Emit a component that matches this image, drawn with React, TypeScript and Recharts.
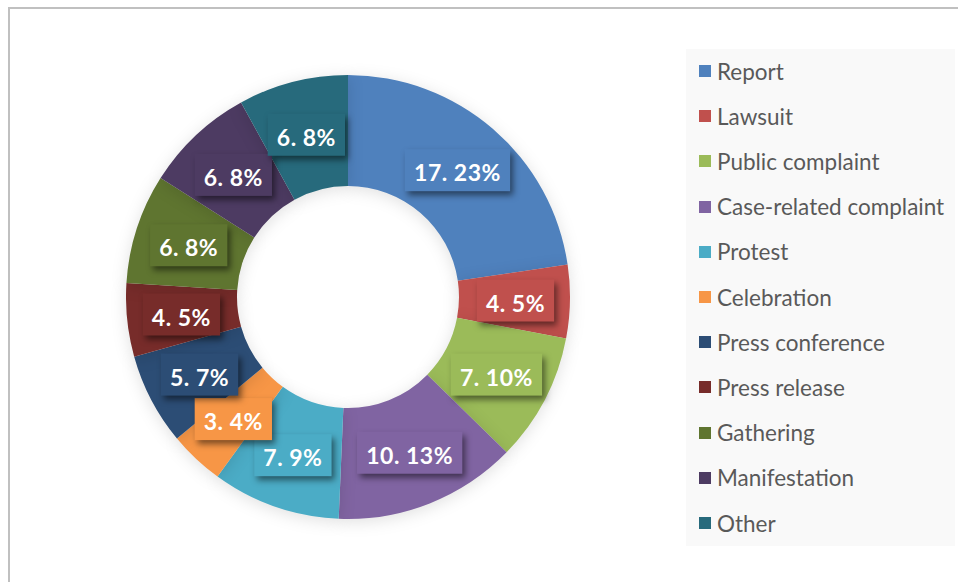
import React from "react";
import { PieChart, Pie, Cell, Legend } from "recharts";

// categories, counts and the percent shown in each label (as printed on the chart)
const categories = [
  "Report",
  "Lawsuit",
  "Public complaint",
  "Case-related complaint",
  "Protest",
  "Celebration",
  "Press conference",
  "Press release",
  "Gathering",
  "Manifestation",
  "Other"
];
const counts = [17, 4, 7, 10, 7, 3, 5, 4, 6, 6, 6];
const percentLabels = ["23%", "5%", "10%", "13%", "9%", "4%", "7%", "5%", "8%", "8%", "8%"];

const colors = [
  "#4F81BD",
  "#C0504D",
  "#9BBB59",
  "#8064A2",
  "#4BACC6",
  "#F79646",
  "#2C4D75",
  "#772C2A",
  "#5F7530",
  "#4D3B62",
  "#276A7C"
];

const chartData = categories.map((name, i) => ({
  name,
  value: counts[i],
  pct: percentLabels[i]
}));

const FONT = "Lato, 'Open Sans', sans-serif";

// rough width of the label text (bold, 23px, 0.5px spacing)
function labelWidth(s: string) {
  let w = 0;
  for (const ch of s) {
    if (ch === ".") w += 6.6;
    else if (ch === " ") w += 5.5;
    else if (ch === "%") w += 19.7;
    else w += 13.5;
    w += 0.5;
  }
  return w;
}

const RADIAN = Math.PI / 180;

const renderLabel = (props: any) => {
  const { cx, cy, midAngle, innerRadius, outerRadius, index } = props;
  const r = (innerRadius + outerRadius) / 2 + 1;
  const x = cx + r * Math.cos(-midAngle * RADIAN);
  const y = cy + r * Math.sin(-midAngle * RADIAN);
  const text = `${counts[index]}. ${percentLabels[index]}`;
  const w = labelWidth(text) + 16;
  const h = 42;
  return (
    <g>
      <rect
        x={x - w / 2}
        y={y - h / 2}
        width={w}
        height={h}
        fill={colors[index]}
        style={{ filter: "drop-shadow(3px 4px 3px rgba(0,0,0,0.5))" }}
      />
      <text
        x={x}
        y={y + 2}
        fill="#fff"
        textAnchor="middle"
        dominantBaseline="central"
        fontFamily={FONT}
        fontWeight={700}
        fontSize={23}
        letterSpacing={0.5}
      >
        {text}
      </text>
    </g>
  );
};

const LegendBox = () => (
  <div
    style={{
      width: 269,
      height: 497,
      background: "#f9f9f9",
      position: "relative",
      fontFamily: FONT
    }}
  >
    {categories.map((c, i) => (
      <div
        key={c}
        style={{
          position: "absolute",
          left: 13,
          top: 22 + i * 45.2 - 14,
          height: 28,
          display: "flex",
          alignItems: "center",
          whiteSpace: "nowrap"
        }}
      >
        <div style={{ width: 12, height: 12, background: colors[i], marginRight: 6 }} />
        <span style={{ fontSize: 22.5, color: "#595959" }}>{c}</span>
      </div>
    ))}
  </div>
);

export default function App() {
  return (
    <div
      style={{
        position: "fixed",
        left: 8,
        top: 7,
        width: 948,
        height: 573,
        borderTop: "2px solid #c0c0c0",
        borderLeft: "2px solid #c0c0c0",
        background: "#fff",
        overflow: "hidden"
      }}
    >
      <style>{`.recharts-pie-sector { filter: drop-shadow(0px 3px 8px rgba(0,0,0,0.12)); }`}</style>
      <PieChart width={948} height={573} margin={{ top: 0, right: 0, bottom: 0, left: 0 }}>
        <Pie
          data={chartData}
          dataKey="value"
          nameKey="name"
          cx={338}
          cy={288}
          innerRadius={111}
          outerRadius={222}
          startAngle={90}
          endAngle={-270}
          stroke="none"
          label={renderLabel}
          labelLine={false}
          isAnimationActive={false}
        >
          {chartData.map((d, i) => (
            <Cell key={d.name} fill={colors[i]} />
          ))}
        </Pie>
        <Legend
          layout="vertical"
          align="right"
          verticalAlign="top"
          content={() => <LegendBox />}
          wrapperStyle={{ left: 676, top: 40, width: 269, height: 497 }}
        />
      </PieChart>
    </div>
  );
}
